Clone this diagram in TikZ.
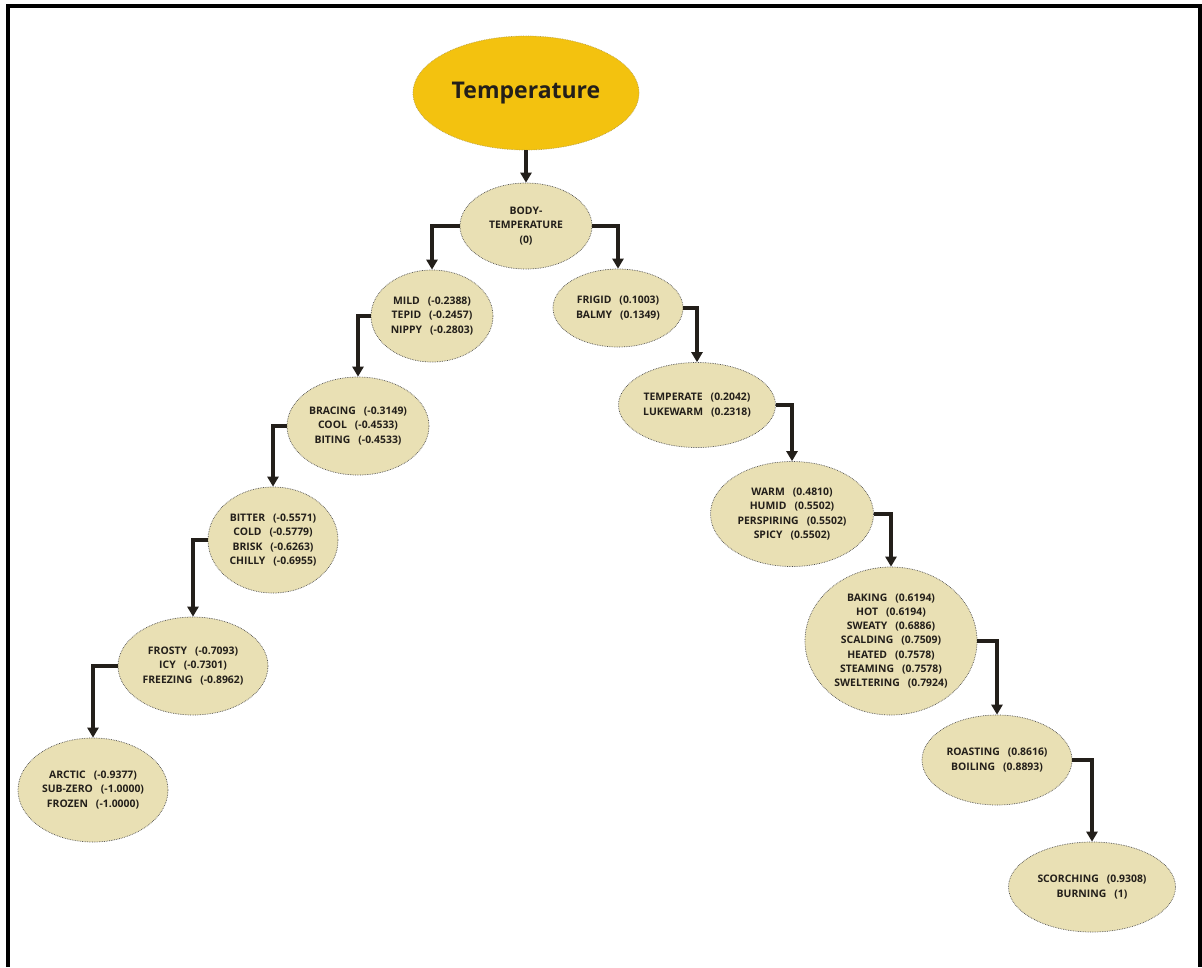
\documentclass[tikz,border=0pt]{standalone}
\usepackage{fontspec}
\setmainfont{Open Sans}
\usetikzlibrary{shapes.geometric,arrows.meta}
\definecolor{gold}{HTML}{F3C20F}
\definecolor{sand}{HTML}{E9E0B4}
\definecolor{ink}{HTML}{231F1A}
\begin{document}
\begin{tikzpicture}[x=1pt,y=-1pt,
  word/.style={ellipse,draw=gray!60!black,densely dotted,line width=0.7pt,fill=sand,
    inner sep=0pt,text=ink,align=center,font=\bfseries\fontsize{10.4}{14.2}\selectfont},
  title/.style={ellipse,draw=gray!50!gold,densely dotted,line width=0.7pt,fill=gold,
    inner sep=0pt,text=ink,font=\bfseries\fontsize{23}{28}\selectfont},
  link/.style={line width=3.2pt,draw=ink,-{Triangle[width=11pt,length=10pt]}}]
\useasboundingbox (0,0) rectangle (1202,967);
\fill[white] (0,0) rectangle (1202,967);
% frame
\draw[line width=3.2pt,black] (8,967) -- (8,6) -- (1200,6) -- (1200,967);
\newcommand{\gap}{\hspace{8pt}}
% nodes
\node[title,minimum width=226pt,minimum height=114pt] (temp) at (526,93) {Temperature};
\node[word,minimum width=132pt,minimum height=86pt] (body) at (526,226)
  {BODY-\\TEMPERATURE\\(0)};
\node[word,minimum width=122pt,minimum height=92pt] (mild) at (432,316)
  {MILD\gap(-0.2388)\\TEPID\gap(-0.2457)\\NIPPY\gap(-0.2803)};
\node[word,minimum width=130pt,minimum height=78pt] (frigid) at (618,308)
  {FRIGID\gap(0.1003)\\BALMY\gap(0.1349)};
\node[word,minimum width=142pt,minimum height=98pt] (bracing) at (358,426)
  {BRACING\gap(-0.3149)\\COOL\gap(-0.4533)\\BITING\gap(-0.4533)};
\node[word,minimum width=157pt,minimum height=85pt] (temperate) at (697,405)
  {TEMPERATE\gap(0.2042)\\LUKEWARM\gap(0.2318)};
\node[word,minimum width=130pt,minimum height=106pt] (bitter) at (273,540)
  {BITTER\gap(-0.5571)\\COLD\gap(-0.5779)\\BRISK\gap(-0.6263)\\CHILLY\gap(-0.6955)};
\node[word,minimum width=163pt,minimum height=105pt] (warm) at (792,514)
  {WARM\gap(0.4810)\\HUMID\gap(0.5502)\\PERSPIRING\gap(0.5502)\\SPICY\gap(0.5502)};
\node[word,minimum width=150pt,minimum height=98pt] (frosty) at (193,666)
  {FROSTY\gap(-0.7093)\\ICY\gap(-0.7301)\\FREEZING\gap(-0.8962)};
\node[word,minimum width=172pt,minimum height=148pt] (baking) at (891,641)
  {BAKING\gap(0.6194)\\HOT\gap(0.6194)\\SWEATY\gap(0.6886)\\SCALDING\gap(0.7509)\\HEATED\gap(0.7578)\\STEAMING\gap(0.7578)\\SWELTERING\gap(0.7924)};
\node[word,minimum width=150pt,minimum height=104pt] (arctic) at (93,790)
  {ARCTIC\gap(-0.9377)\\SUB-ZERO\gap(-1.0000)\\FROZEN\gap(-1.0000)};
\node[word,minimum width=150pt,minimum height=90pt] (roasting) at (997,760)
  {ROASTING\gap(0.8616)\\BOILING\gap(0.8893)};
\node[word,minimum width=167pt,minimum height=90pt] (scorching) at (1092,887)
  {SCORCHING\gap(0.9308)\\BURNING\gap(1)};
% connectors
\draw[link] (temp.south) -- (body.north);
\draw[link] (body.west) -| (mild.north);
\draw[link] (body.east) -| (frigid.north);
\draw[link] (mild.west) -| (bracing.north);
\draw[link] (bracing.west) -| (bitter.north);
\draw[link] (bitter.west) -| (frosty.north);
\draw[link] (frosty.west) -| (arctic.north);
\draw[link] (frigid.east) -| (temperate.north);
\draw[link] (temperate.east) -| (warm.north);
\draw[link] (warm.east) -| (baking.north);
\draw[link] (baking.east) -| (roasting.north);
\draw[link] (roasting.east) -| (scorching.north);
\end{tikzpicture}
\end{document}
